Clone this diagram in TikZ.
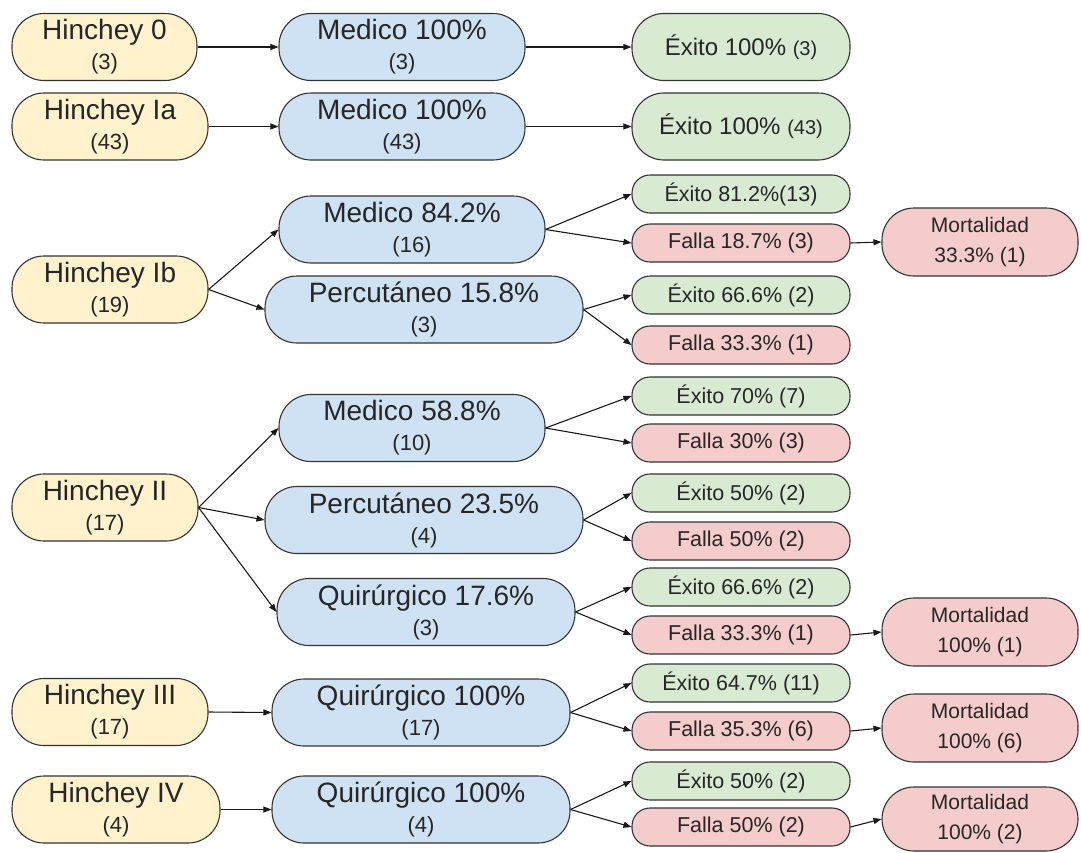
\documentclass[tikz,border=0pt]{standalone}
\usepackage{fontspec}
\setmainfont{Liberation Sans}
\usetikzlibrary{arrows.meta}
\definecolor{yelfill}{HTML}{FFF2CC}
\definecolor{bluefill}{HTML}{CFE2F3}
\definecolor{grnfill}{HTML}{D9EAD3}
\definecolor{redfill}{HTML}{F4CCCC}
\definecolor{edgecol}{HTML}{333333}
\newcommand{\ftBig}{\fontsize{28}{30}\selectfont}
\newcommand{\ftSub}{\fontsize{22}{30}\selectfont}
\newcommand{\ftGr}{\fontsize{24}{28}\selectfont}
\newcommand{\ftGrs}{\fontsize{20}{28}\selectfont}
\newcommand{\ftSm}{\fontsize{21.5}{30}\selectfont}
\newcommand{\ftMo}{\fontsize{21}{30}\selectfont}
\tikzset{
  box/.style={draw=edgecol, line width=1.1pt, inner sep=0pt, align=center, text=black!85},
  yel/.style={box, fill=yelfill},
  blu/.style={box, fill=bluefill},
  grn/.style={box, fill=grnfill},
  rd/.style={box, fill=redfill},
  big/.style={minimum height=67pt, rounded corners=32pt, font=\ftBig},
  gbig/.style={minimum height=67pt, rounded corners=32pt, font=\ftGr},
  small/.style={minimum height=38pt, rounded corners=18pt, font=\ftSm},
  mort/.style={minimum height=68pt, minimum width=196pt, rounded corners=32pt, font=\ftMo},
  arr/.style={draw=black!90, line width=1.1pt, -{Triangle[length=8pt,width=6pt]}},
}
\begin{document}
\begin{tikzpicture}[x=1pt,y=-1pt]
\useasboundingbox (0,0) rectangle (1081,852);
% yellow column
\node[yel,big,minimum width=185pt] (h0) at (104.5,47) {Hinchey 0\\\ftSub (3)};
\node[yel,big,minimum width=196pt] (h1a) at (110,126.5) {Hinchey Ia\\\ftSub (43)};
\node[yel,big,minimum width=196pt] (h1b) at (110,289.5) {Hinchey Ib\\\ftSub (19)};
\node[yel,big,minimum width=186pt] (h2) at (105,507.5) {Hinchey II\\\ftSub (17)};
\node[yel,big,minimum width=196pt] (h3) at (110,712) {Hinchey III\\\ftSub (17)};
\node[yel,big,minimum width=208pt] (h4) at (116,809.5) {Hinchey IV\\\ftSub (4)};
% blue column
\node[blu,big,minimum width=246pt] (m0) at (402,47) {Medico 100\%\\\ftSub (3)};
\node[blu,big,minimum width=246pt] (m1a) at (402,126.5) {Medico 100\%\\\ftSub (43)};
\node[blu,big,minimum width=266pt] (m1b) at (412,229.5) {Medico 84.2\%\\\ftSub (16)};
\node[blu,big,minimum width=318pt] (p1b) at (424,309.5) {Percutáneo 15.8\%\\\ftSub (3)};
\node[blu,big,minimum width=266pt] (m2) at (412,428) {Medico 58.8\%\\\ftSub (10)};
\node[blu,big,minimum width=318pt] (p2) at (424,520) {Percutáneo 23.5\%\\\ftSub (4)};
\node[blu,big,minimum width=298pt] (q2) at (426,612) {Quirúrgico 17.6\%\\\ftSub (3)};
\node[blu,big,minimum width=298pt] (q3) at (421,712.5) {Quirúrgico 100\%\\\ftSub (17)};
\node[blu,big,minimum width=298pt] (q4) at (421,809.5) {Quirúrgico 100\%\\\ftSub (4)};
% outcome column
\node[grn,gbig,minimum width=218pt] (e0) at (741,47) {Éxito 100\% {\ftGrs(3)}};
\node[grn,gbig,minimum width=218pt] (e1a) at (741,126.5) {Éxito 100\% {\ftGrs(43)}};
\node[grn,small,minimum width=218pt] (e1b) at (741,194) {Éxito 81.2\%(13)};
\node[rd,small,minimum width=218pt] (f1b) at (741,243) {Falla 18.7\% (3)};
\node[grn,small,minimum width=218pt] (e1bp) at (741,295) {Éxito 66.6\% (2)};
\node[rd,small,minimum width=218pt] (f1bp) at (741,345) {Falla 33.3\% (1)};
\node[grn,small,minimum width=218pt] (e2m) at (741,396) {Éxito 70\% (7)};
\node[rd,small,minimum width=218pt] (f2m) at (741,443) {Falla 30\% (3)};
\node[grn,small,minimum width=218pt] (e2p) at (741,493) {Éxito 50\% (2)};
\node[rd,small,minimum width=218pt] (f2p) at (741,541) {Falla 50\% (2)};
\node[grn,small,minimum width=218pt] (e2q) at (741,587) {Éxito 66.6\% (2)};
\node[rd,small,minimum width=218pt] (f2q) at (741,635) {Falla 33.3\% (1)};
\node[grn,small,minimum width=218pt] (e3) at (741,683) {Éxito 64.7\% (11)};
\node[rd,small,minimum width=218pt] (f3) at (741,731) {Falla 35.3\% (6)};
\node[grn,small,minimum width=218pt] (e4) at (741,781) {Éxito 50\% (2)};
\node[rd,small,minimum width=218pt] (f4) at (741,827) {Falla 50\% (2)};
% mortality
\node[rd,mort] (mo1b) at (980,242) {Mortalidad\\33.3\% (1)};
\node[rd,mort] (mo2) at (980,632) {Mortalidad\\100\% (1)};
\node[rd,mort] (mo3) at (980,728) {Mortalidad\\100\% (6)};
\node[rd,mort,minimum height=64pt] (mo4) at (980,819) {Mortalidad\\100\% (2)};
% connectors
\draw[arr] (h0.east) -- (m0.west);
\draw[arr] (m0.east) -- (e0.west);
\draw[arr] (h1a.east) -- (m1a.west);
\draw[arr] (m1a.east) -- (e1a.west);
\draw[arr] (h1b.east) -- (m1b.west);
\draw[arr] (h1b.east) -- (p1b.west);
\draw[arr] (m1b.east) -- (e1b.west);
\draw[arr] (m1b.east) -- (f1b.west);
\draw[arr] (f1b.east) -- (mo1b.west);
\draw[arr] (p1b.east) -- (e1bp.west);
\draw[arr] (p1b.east) -- (f1bp.west);
\draw[arr] (h2.east) -- (m2.west);
\draw[arr] (h2.east) -- (p2.west);
\draw[arr] (h2.east) -- (q2.west);
\draw[arr] (m2.east) -- (e2m.west);
\draw[arr] (m2.east) -- (f2m.west);
\draw[arr] (p2.east) -- (e2p.west);
\draw[arr] (p2.east) -- (f2p.west);
\draw[arr] (q2.east) -- (e2q.west);
\draw[arr] (q2.east) -- (f2q.west);
\draw[arr] (f2q.east) -- (mo2.west);
\draw[arr] (h3.east) -- (q3.west);
\draw[arr] (q3.east) -- (e3.west);
\draw[arr] (q3.east) -- (f3.west);
\draw[arr] (f3.east) -- (mo3.west);
\draw[arr] (h4.east) -- (q4.west);
\draw[arr] (q4.east) -- (e4.west);
\draw[arr] (q4.east) -- (f4.west);
\draw[arr] (f4.east) -- (mo4.west);
\end{tikzpicture}
\end{document}
